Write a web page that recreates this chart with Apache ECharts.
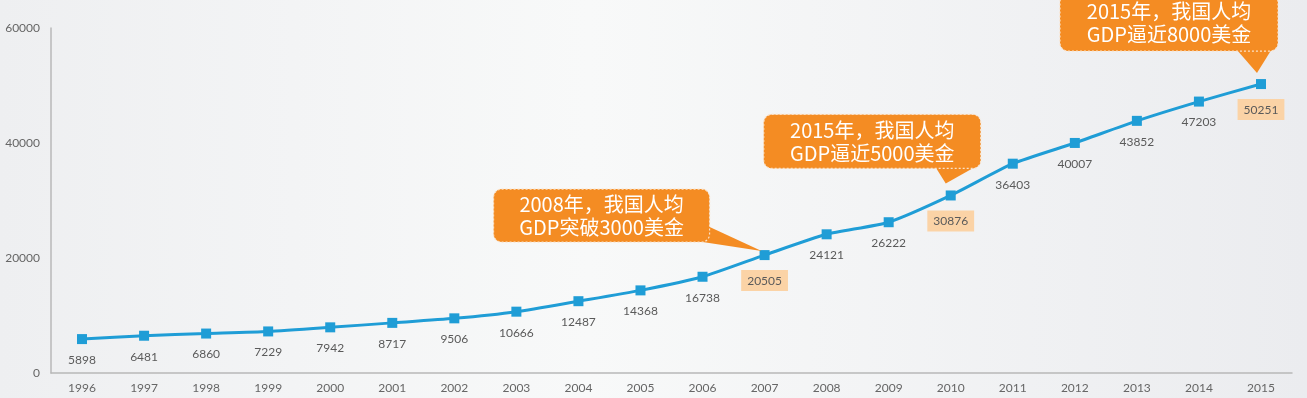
<!DOCTYPE html>
<html><head><meta charset="utf-8">
<script src="https://cdn.jsdelivr.net/npm/echarts@6/dist/echarts.min.js"></script>
<style>html,body{margin:0;padding:0;}#c{width:1307px;height:398px;}</style>
</head><body><div id="c"></div>
<script>
const years = ['1996','1997','1998','1999','2000','2001','2002','2003','2004','2005','2006','2007','2008','2009','2010','2011','2012','2013','2014','2015'];
const gdp = [5898,6481,6860,7229,7942,8717,9506,10666,12487,14368,16738,20505,24121,26222,30876,36403,40007,43852,47203,50251];
const yTicks = [0,20000,40000,60000];
const highlightYears = ['2007','2010','2015'];
const callouts = [
  {year:'2007', lines:['2008年，我国人均','GDP突破3000美金']},
  {year:'2010', lines:['2015年，我国人均','GDP逼近5000美金']},
  {year:'2015', lines:['2015年，我国人均','GDP逼近8000美金']}
];
// box geometry relative to the target point: [dx, dy, w, h], tail [base1, base2, tip] relative
const calloutShape = [
  {box:[-271,-66,216,53], tail:[[-70,-35],[-62,-13],[-3,-4]]},
  {box:[-187,-81,217,54], tail:[[-15,-28],[27,-30],[-5,-12]]},
  {box:[-201,-90,218,57], tail:[[-24,-34],[14,-40],[-4,-11]]}
];

const chart = echarts.init(document.getElementById('c'));
const data = gdp.map((v,i)=>{
  const hl = highlightYears.includes(years[i]);
  return {value:v, label: hl ? {backgroundColor:'#fbd3a6', padding:[5,6,4,6]} : {}};
});
const lblFont = '"Century Gothic", Lato, sans-serif';
chart.setOption({
  backgroundColor: {type:'linear', x:0, y:0, x2:1, y2:0, colorStops:[
    {offset:0,color:'#eeeff1'},{offset:0.45,color:'#f8f9f9'},{offset:1,color:'#ebecef'}]},
  grid:{left:51, right:15, top:28, bottom:25},
  xAxis:{type:'category', data:years, boundaryGap:true,
    axisLine:{lineStyle:{color:'#b8b8b8', width:1.5}}, axisTick:{show:false},
    axisLabel:{color:'#666', fontSize:12, fontFamily:lblFont, margin:9}},
  yAxis:{type:'value', min:0, max:60000, interval:20000,
    axisLine:{show:true, lineStyle:{color:'#b8b8b8', width:1.5}}, axisTick:{show:false},
    splitLine:{show:false},
    axisLabel:{color:'#666', fontSize:12, fontFamily:lblFont, margin:11,
      formatter:(v)=> yTicks.includes(v) ? String(v) : ''}},
  series:[{type:'line', data:data, smooth:0.2, symbol:'rect', symbolSize:10,
    lineStyle:{color:'#1f9dd6', width:3}, itemStyle:{color:'#1f9dd6'},
    label:{show:true, position:'bottom', distance:10, color:'#5a5a5a', fontSize:12, fontFamily:lblFont},
    animation:false}]
});

function buildGraphics(){
  const els = [];
  callouts.forEach((c,k)=>{
    const idx = years.indexOf(c.year);
    const p = chart.convertToPixel({seriesIndex:0}, [idx, gdp[idx]]);
    const s = calloutShape[k];
    const bx = p[0]+s.box[0], by = p[1]+s.box[1], bw = s.box[2], bh = s.box[3];
    els.push({type:'polygon', shape:{points:s.tail.map(t=>[p[0]+t[0], p[1]+t[1]])},
      style:{fill:'#f48c23'}, z:10});
    els.push({type:'rect', shape:{x:bx, y:by, width:bw, height:bh, r:8},
      style:{fill:'#f48c23', stroke:'#fbe2c8', lineWidth:1.2, lineDash:[2,2]}, z:11});
    els.push({type:'text', x:bx+bw/2, y:by+bh/2, z:12,
      style:{text:c.lines.join('\n'), fill:'#fff', fontSize:20, lineHeight:23,
        fontFamily:'"Noto Sans CJK SC", sans-serif', align:'center', verticalAlign:'middle'}});
  });
  chart.setOption({graphic:els});
}
buildGraphics();
</script>
</body></html>
